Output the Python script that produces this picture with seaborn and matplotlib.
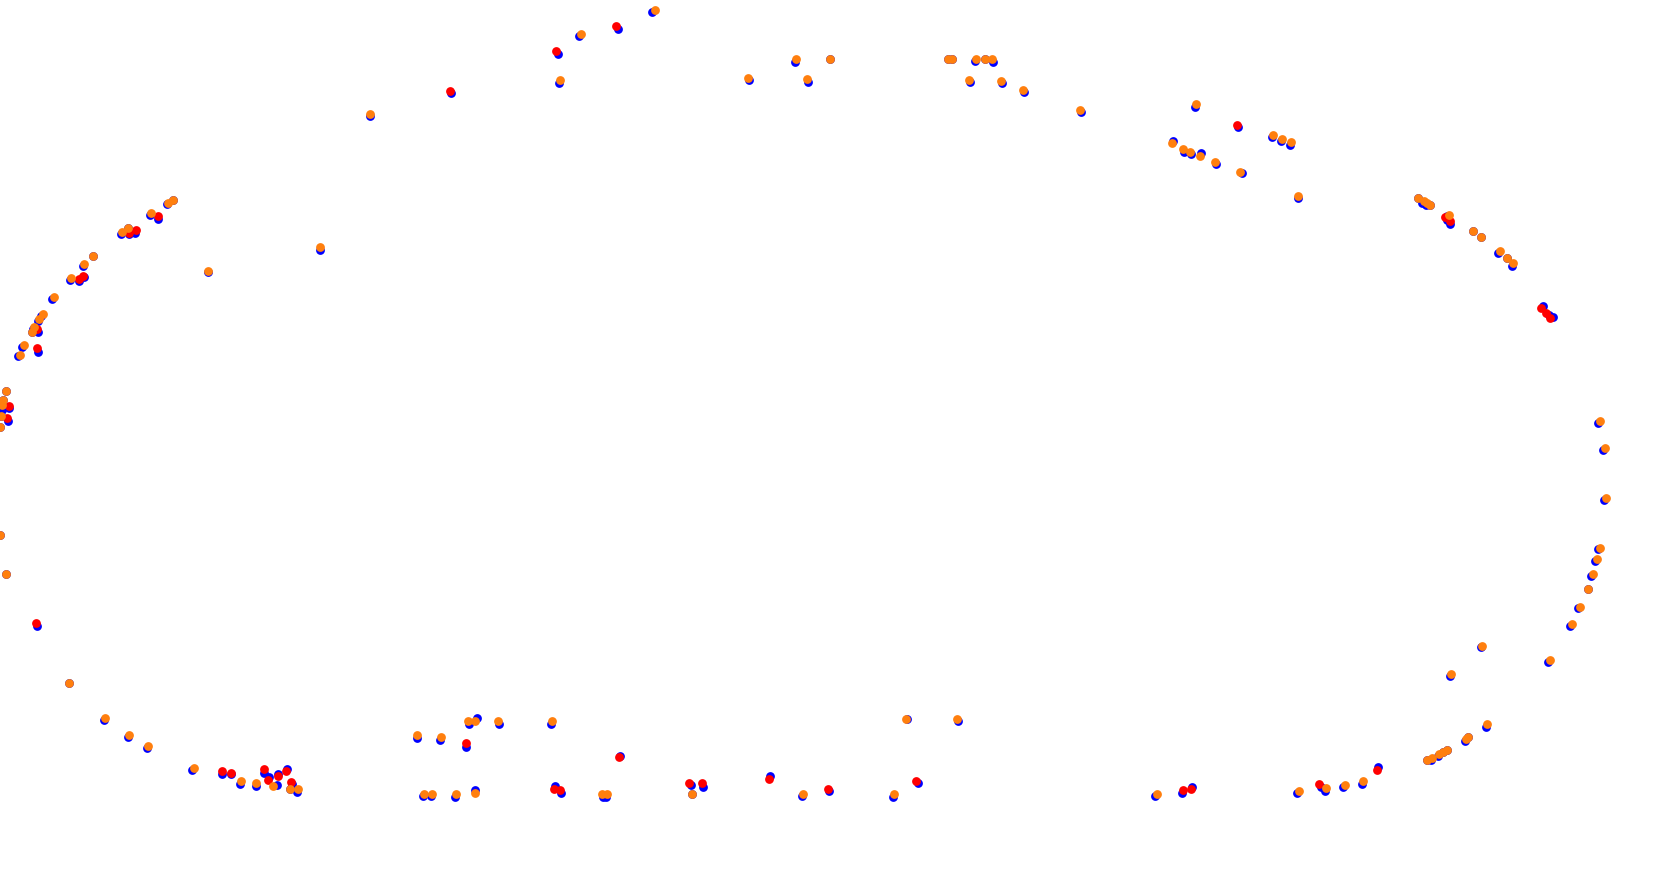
import matplotlib
matplotlib.use("Agg")
import matplotlib.pyplot as plt
import seaborn as sns
import pandas as pd

# Points in image-like coordinates (x to the right, y downward)
red_x = [616, 556, 450, 1237, 1445, 1450, 1541, 1546, 1550, 1183, 1191, 1319, 1377,
         689, 702, 769, 828, 916, 466, 619, 554, 560, 222, 231, 264, 268, 278, 286,
         291, 36, 158, 129, 136, 79, 83, 37, 37, 9, 7]
red_y = [26, 51, 91, 125, 217, 221, 308, 313, 318, 790, 789, 784, 770,
         783, 783, 779, 789, 781, 743, 757, 789, 790, 771, 773, 769, 780, 776, 771,
         782, 623, 216, 233, 230, 279, 276, 329, 348, 406, 418]
red_bx = [618, 558, 451, 1238, 1447, 1450, 1543, 1549, 1553, 1182, 1192, 1321, 1378,
          691, 703, 770, 829, 918, 466, 620, 555, 561, 222, 231, 264, 269, 278, 287,
          292, 37, 158, 129, 135, 79, 84, 38, 38, 9, 8]
red_by = [29, 54, 93, 127, 220, 224, 306, 315, 317, 793, 787, 787, 767,
          785, 787, 776, 791, 783, 747, 756, 786, 793, 774, 774, 773, 777, 774, 769,
          784, 626, 219, 234, 233, 281, 277, 332, 352, 408, 421]

orange_x = [655, 581, 560, 370, 320, 208, 748, 796, 830, 807, 948, 952, 976, 985, 992,
            969, 1001, 1023, 1080, 1196, 1172, 1183, 1190, 1200, 1215, 1240, 1273, 1282,
            1291, 1298, 1418, 1424, 1427, 1430, 1449, 1473, 1481, 1500, 1507, 1513,
            1600, 1605, 1606, 1600, 1597, 1593, 1588, 1580, 1572, 1550, 1482, 1451,
            1157, 1299, 1326, 1345, 1363, 1427, 1432, 1439, 1443, 1447, 1466, 1468, 1487,
            692, 803, 906, 894, 957, 417, 441, 468, 475, 498, 552, 424, 432, 456, 475,
            602, 607, 194, 241, 256, 273, 290, 298, 148, 129, 105, 69, 0, 6,
            20, 6, 3, 2, 1, 0, 173, 168, 151, 122, 128, 93, 84, 71, 54, 43, 39, 34, 32, 24]
orange_y = [10, 34, 80, 114, 247, 271, 78, 59, 59, 79, 59, 59, 59, 59, 59,
            80, 81, 90, 110, 104, 143, 149, 152, 156, 162, 172, 135, 139,
            142, 196, 198, 201, 203, 205, 215, 231, 237, 251, 258, 263,
            421, 448, 498, 548, 559, 574, 589, 607, 624, 660, 646, 674,
            794, 791, 788, 785, 781, 760, 758, 754, 752, 750, 739, 737, 724,
            794, 794, 719, 794, 719, 735, 737, 721, 721, 721, 721, 794, 794, 794, 793,
            794, 794, 768, 781, 783, 786, 789, 789, 746, 735, 718, 683, 535, 574,
            355, 391, 400, 405, 416, 427, 200, 203, 213, 232, 228, 256, 264, 278, 297, 314, 319, 327, 332, 345]
orange_bx = [652, 579, 559, 370, 320, 208, 749, 795, 830, 808, 948, 952, 975, 985, 993,
             970, 1002, 1024, 1081, 1195, 1173, 1184, 1191, 1201, 1216, 1242, 1272, 1281,
             1290, 1298, 1418, 1422, 1426, 1430, 1447, 1473, 1481, 1498, 1507, 1512,
             1598, 1603, 1604, 1598, 1595, 1591, 1588, 1578, 1570, 1548, 1481, 1450,
             1155, 1297, 1325, 1343, 1362, 1427, 1431, 1438, 1443, 1447, 1465, 1468, 1486,
             692, 802, 907, 893, 958, 417, 440, 469, 477, 499, 551, 423, 431, 455, 475,
             603, 606, 192, 240, 256, 277, 290, 297, 147, 128, 104, 69, 0, 6,
             18, 6, 3, 2, 1, 0, 173, 167, 150, 121, 128, 93, 83, 70, 52, 41, 38, 33, 32, 22]
orange_by = [12, 36, 83, 116, 250, 272, 80, 62, 59, 82, 59, 59, 61, 59, 62,
             82, 83, 92, 112, 107, 141, 152, 154, 153, 164, 173, 137, 141,
             145, 198, 198, 203, 205, 205, 216, 231, 237, 253, 258, 266,
             423, 450, 500, 549, 561, 576, 589, 608, 626, 662, 647, 676,
             796, 793, 791, 787, 784, 760, 760, 756, 752, 750, 741, 737, 727,
             794, 796, 719, 797, 721, 738, 740, 724, 718, 724, 724, 796, 796, 797, 790,
             797, 797, 770, 784, 786, 785, 789, 792, 748, 737, 720, 683, 535, 574,
             356, 391, 400, 410, 416, 427, 200, 204, 215, 234, 228, 256, 266, 280, 299, 316, 321, 329, 332, 347]

blue_x = red_bx + orange_bx
blue_y = red_by + orange_by

df_blue = pd.DataFrame({"x": blue_x, "y": blue_y})
df_red = pd.DataFrame({"x": red_x, "y": red_y})
df_orange = pd.DataFrame({"x": orange_x, "y": orange_y})

fig = plt.figure(figsize=(16.79, 8.72), dpi=100)
ax = fig.add_axes([0, 0, 1, 1])
kw = dict(s=40, linewidth=0, legend=False, ax=ax)
sns.scatterplot(data=df_blue, x="x", y="y", color="#0000ff", zorder=1, **kw)
sns.scatterplot(data=df_red, x="x", y="y", color="#ff0000", zorder=2, **kw)
sns.scatterplot(data=df_orange, x="x", y="y", color="#ff7f0e", zorder=3, **kw)
ax.set_xlim(0, 1679)
ax.set_ylim(872, 0)
ax.set_axis_off()
fig.savefig("out.png", dpi=100)
